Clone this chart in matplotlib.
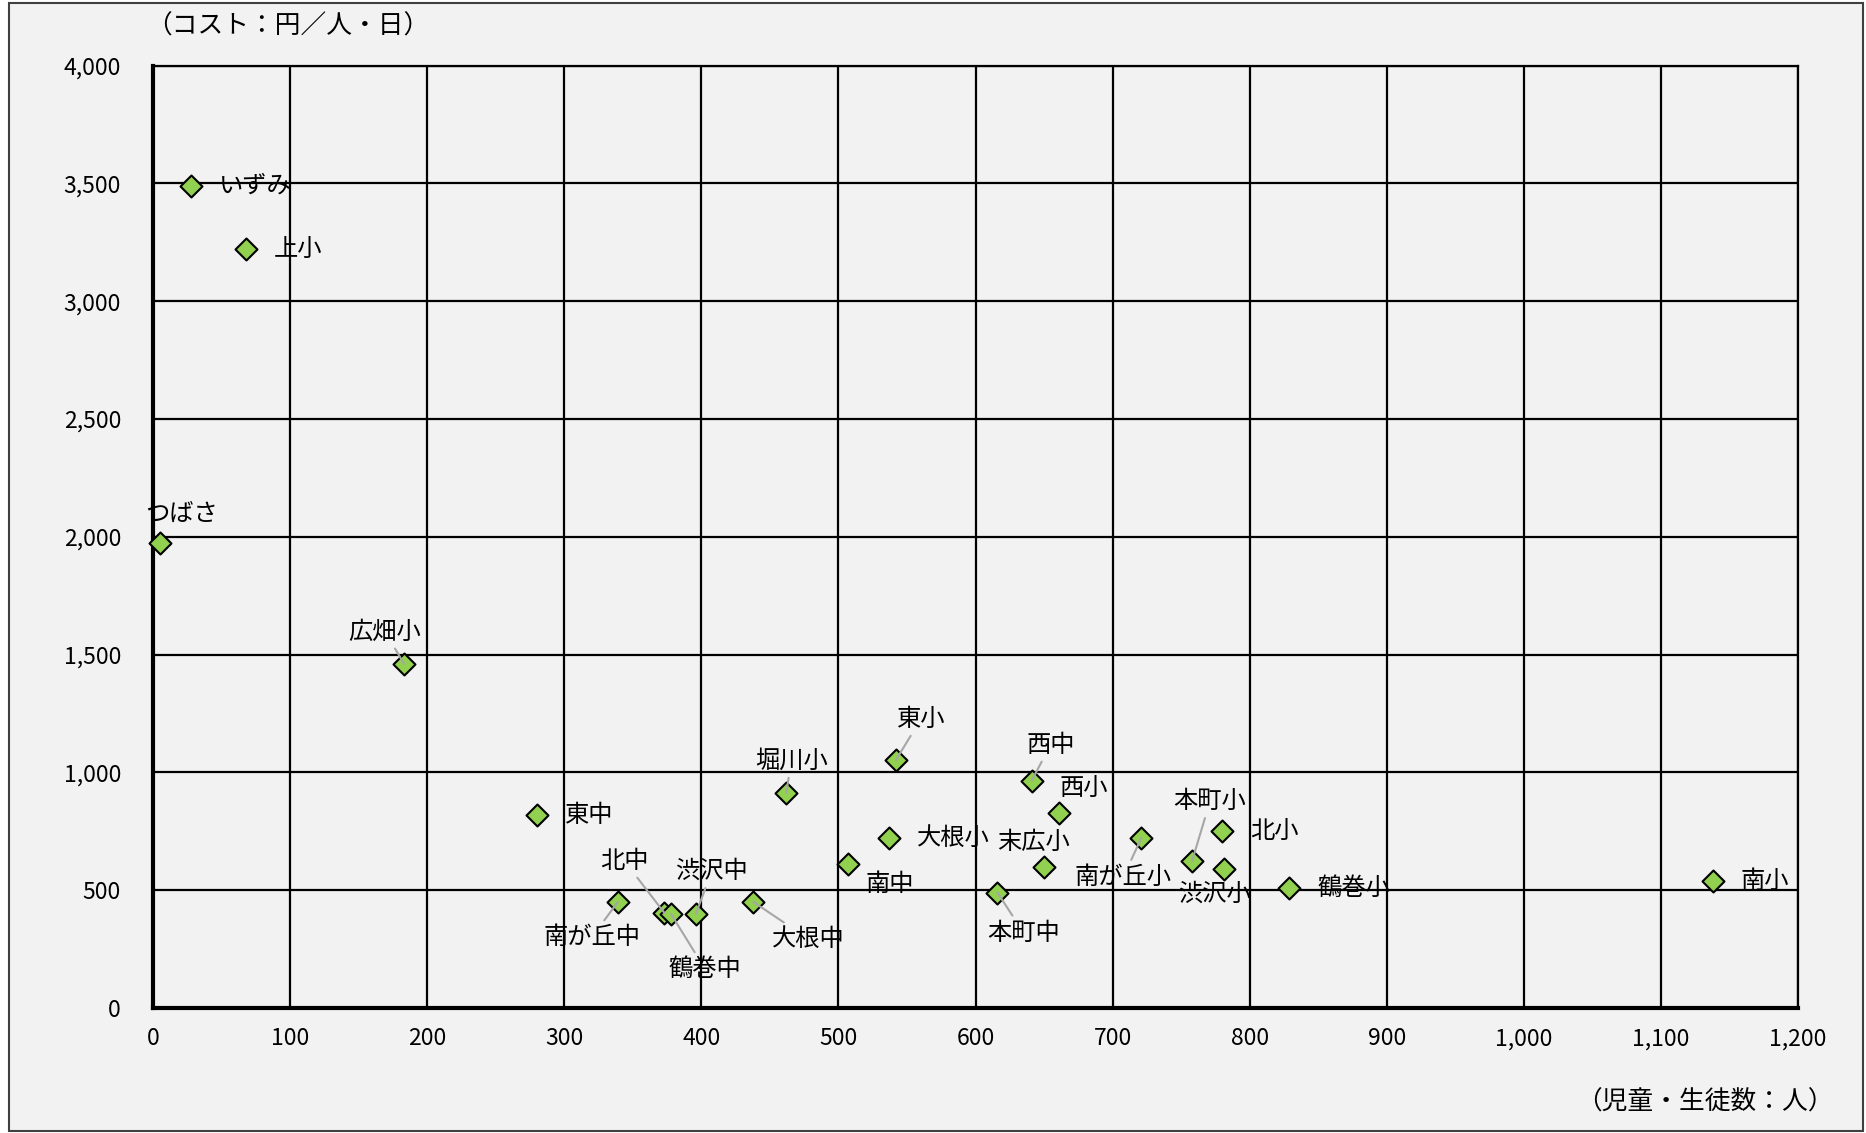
import matplotlib
matplotlib.use("Agg")
import matplotlib.pyplot as plt
from matplotlib.patches import Rectangle
from matplotlib.ticker import FuncFormatter
from matplotlib import font_manager

plt.rcParams['font.family'] = ['Noto Sans CJK JP', 'DejaVu Sans']

# ---- data ----
schools = ['いずみ', '上小', 'つばさ', '広畑小', '東中', '南が丘中', '北中', '鶴巻中',
           '渋沢中', '大根中', '堀川小', '南中', '大根小', '東小', '本町中', '西中',
           '末広小', '西小', '南が丘小', '本町小', '北小', '渋沢小', '鶴巻小', '南小']
students = [28, 68, 5, 183, 280, 339, 373, 378,
            396, 438, 462, 507, 537, 542, 616, 641,
            650, 661, 721, 758, 780, 781, 829, 1138]
cost = [3490, 3220, 1975, 1462, 818, 449, 404, 398,
        399, 450, 914, 611, 720, 1053, 490, 965,
        600, 826, 722, 624, 751, 590, 511, 540]
x_ticks = list(range(0, 1201, 100))
y_ticks = list(range(0, 4001, 500))
y_title = '（コスト：円／人・日）'
x_title = '（児童・生徒数：人）'

# label placement: (dx, dy) in pixels (screen, dy down positive), alignment, leader line
label_pos = {
    'いずみ': (28, 0, 'left', False),
    '上小': (28, 0, 'left', False),
    'つばさ': (22, -29, 'center', False),
    '広畑小': (-19, -32, 'center', True),
    '東中': (28, 0, 'left', False),
    '南が丘中': (-26, 35, 'center', True),
    '北中': (-40, -52, 'center', True),
    '鶴巻中': (34, 55, 'center', True),
    '渋沢中': (16, -43, 'center', True),
    '大根中': (55, 37, 'center', True),
    '堀川小': (5, -32, 'center', True),
    '南中': (42, 20, 'center', False),
    '大根小': (28, 0, 'left', False),
    '東小': (25, -41, 'center', True),
    '本町中': (26, 40, 'center', True),
    '西中': (19, -36, 'center', True),
    '末広小': (-11, -25, 'center', False),
    '西小': (25, -25, 'center', False),
    '南が丘小': (-18, 39, 'center', True),
    '本町小': (18, -60, 'center', True),
    '北小': (28, 0, 'left', False),
    '渋沢小': (-9, 25, 'center', False),
    '鶴巻小': (28, 0, 'left', False),
    '南小': (28, 0, 'left', False),
}

installed = {f.name for f in font_manager.fontManager.ttflist}
tick_family = ['Liberation Sans Narrow', 'Noto Sans CJK JP'] if 'Liberation Sans Narrow' in installed \
    else ['Noto Sans CJK JP']
tick_size = 18 if 'Liberation Sans Narrow' in installed else 16.5

W, H, DPI = 1866, 1133, 100
fig = plt.figure(figsize=(W / DPI, H / DPI), dpi=DPI, facecolor='white')

# outer chart frame
frame = Rectangle((9 / W, 1 - 1131 / H), (1863 - 9) / W, (1131 - 3) / H,
                  transform=fig.transFigure, facecolor='#f2f2f2',
                  edgecolor='#404040', linewidth=1.5, zorder=-10)
fig.patches.append(frame)

ax = fig.add_axes([153 / W, 1 - 1008 / H, (1798 - 153) / W, (1008 - 65.5) / H])
ax.set_zorder(1)
ax.patch.set_visible(False)
ax.set_xlim(0, 1200)
ax.set_ylim(0, 4000)
ax.set_xticks(x_ticks)
ax.set_yticks(y_ticks)
fmt = FuncFormatter(lambda v, p: f'{int(v):,}')
ax.xaxis.set_major_formatter(fmt)
ax.yaxis.set_major_formatter(fmt)
ax.tick_params(length=0, colors='black')
ax.tick_params(axis='x', pad=14)
ax.tick_params(axis='y', pad=23)
for lab in ax.get_xticklabels() + ax.get_yticklabels():
    lab.set_family(tick_family)
    lab.set_fontsize(tick_size)
ax.grid(True, color='black', linewidth=1.6, zorder=1)
ax.set_axisbelow(True)
for side in ['top', 'right']:
    ax.spines[side].set_linewidth(1.6)
for side in ['left', 'bottom']:
    ax.spines[side].set_linewidth(3)

ax.scatter(students, cost, marker='D', s=125, facecolor='#92d050',
           edgecolor='black', linewidth=1.5, zorder=3, clip_on=False)

for name, xv, yv in zip(schools, students, cost):
    dx, dy, ha, lead = label_pos[name]
    kw = {}
    if lead:
        kw['arrowprops'] = dict(arrowstyle='-', color='#a6a6a6', lw=1.5,
                                shrinkA=1, shrinkB=0)
    ax.annotate(name, (xv, yv), xytext=(dx, -dy), textcoords='offset pixels',
                ha=ha, va='center', fontsize=17.5, color='black', zorder=4, **kw)

fig.text(146 / W, 1 - 27 / H, y_title, ha='left', va='center', fontsize=18.5)
fig.text(1834 / W, 1 - 1103 / H, x_title, ha='right', va='center', fontsize=18.5)

fig.savefig('out.png', dpi=DPI, facecolor='white')
